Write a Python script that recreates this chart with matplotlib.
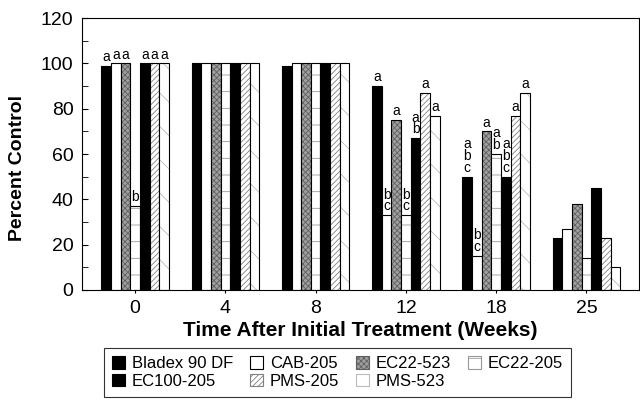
import numpy as np
import matplotlib
matplotlib.use('Agg')
from matplotlib import pyplot as plt
from matplotlib.patches import Patch
from matplotlib.ticker import MultipleLocator

plt.rcParams['font.family'] = ['Liberation Sans', 'DejaVu Sans']
plt.rcParams['hatch.linewidth'] = 0.6

weeks = ['0', '4', '8', '12', '18', '25']
series = ['Bladex 90 DF', 'CAB-205', 'EC22-523', 'EC22-205', 'EC100-205', 'PMS-205', 'PMS-523']

bladex = [99, 100, 99, 90, 50, 23]
cab205 = [100, 100, 100, 33, 15, 27]
ec22_523 = [100, 100, 100, 75, 70, 38]
ec22_205 = [37, 100, 100, 33, 60, 14]
ec100_205 = [100, 100, 100, 67, 50, 45]
pms205 = [100, 100, 100, 87, 77, 23]
pms523 = [100, 100, 100, 77, 87, 10]
values = [bladex, cab205, ec22_523, ec22_205, ec100_205, pms205, pms523]

# significance letters, one list per series, '' = none
letters = [
    ['a', '', '', 'a', 'a\nb\nc', ''],
    ['a', '', '', 'b\nc', 'b\nc', ''],
    ['a', '', '', 'a', 'a', ''],
    ['b', '', '', 'b\nc', 'a\nb', ''],
    ['a', '', '', 'a\nb', 'a\nb\nc', ''],
    ['a', '', '', 'a', 'a', ''],
    ['a', '', '', 'a', 'a', ''],
]

# face, hatch, hatch colour
styles = [
    ('black', '', 'black'),
    ('white', '', 'black'),
    ('#a0a0a0', 'xxxxxx', '#606060'),
    ('white', '-', '#999999'),
    ('black', '', 'black'),
    ('white', '//////', '#808080'),
    ('white', '\\', '#bbbbbb'),
]

fig = plt.figure(figsize=(6.4, 4.13), dpi=100)
ax = fig.add_axes([0.128, 0.298, 0.870, 0.658])

x = np.arange(len(weeks))
w = 0.107
handles = []
for i, (name, vals, labs, (fc, hatch, hc)) in enumerate(zip(series, values, letters, styles)):
    pos = x + (i - 3) * w
    # hatch layer (hatch takes the edge colour), then black outline on top
    ax.bar(pos, vals, w, color=fc, hatch=hatch, edgecolor=hc, linewidth=0)
    ax.bar(pos, vals, w, fill=False, edgecolor='black', linewidth=0.8)
    handles.append(Patch(facecolor=fc, hatch=hatch, edgecolor=hc if hatch else 'black', linewidth=0.8))
    for px, v, lab in zip(pos, vals, labs):
        if lab:
            ax.text(px, v + 0.8, lab, ha='center', va='bottom', fontsize=10, linespacing=0.8)

ax.set_xlim(-0.59, 5.58)
ax.set_ylim(0, 120)
ax.set_xticks(x)
ax.set_xticklabels(weeks)
ax.yaxis.set_major_locator(MultipleLocator(20))
ax.yaxis.set_minor_locator(MultipleLocator(10))
ax.tick_params(axis='y', which='both', direction='in', length=4, labelsize=14, pad=6)
ax.tick_params(axis='x', length=2, labelsize=14, pad=5)
for s in ax.spines.values():
    s.set_linewidth(0.8)

ax.set_ylabel('Percent Control', fontsize=14, fontweight='bold')
ax.yaxis.set_label_coords(-0.1, 0.45)
ax.set_xlabel('Time After Initial Treatment (Weeks)', fontsize=15, fontweight='bold', labelpad=3)

order = [0, 4, 1, 5, 2, 6, 3]
leg = fig.legend([handles[k] for k in order], [series[k] for k in order],
                 ncol=4, loc='upper left', bbox_to_anchor=(0.162, 0.158),
                 fontsize=12, handlelength=0.8, handleheight=0.8, handletextpad=0.4,
                 columnspacing=1.0, labelspacing=0.15, fancybox=False, frameon=True,
                 borderpad=0.5, borderaxespad=0)
leg.get_frame().set_edgecolor('black')
leg.get_frame().set_linewidth(0.8)

fig.savefig('out.png', dpi=100)
